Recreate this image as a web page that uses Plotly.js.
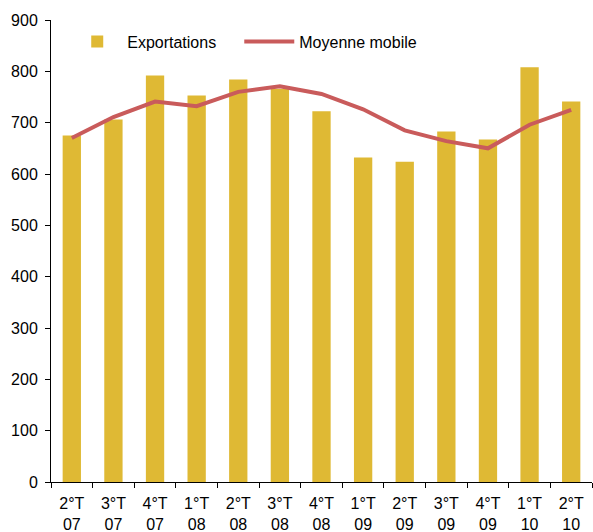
<!DOCTYPE html>
<html>
<head>
<meta charset="utf-8">
<script src="https://cdn.plot.ly/plotly-3.0.1.min.js"></script>
<style>
html,body{margin:0;padding:0;background:#fff;}
#chart{width:593px;height:532px;}
</style>
</head>
<body>
<div id="chart"></div>
<script>
const categories = ["2°T<br>07","3°T<br>07","4°T<br>07","1°T<br>08","2°T<br>08","3°T<br>08","4°T<br>08","1°T<br>09","2°T<br>09","3°T<br>09","4°T<br>09","1°T<br>10","2°T<br>10"];
const exportations = [675, 706, 792, 753, 784, 766, 722, 632, 624, 683, 667, 808, 741];
const moyenneMobile = [670, 711, 741, 732, 760, 771, 756, 726, 685, 664, 650, 696, 725];
const yTicks = [0,100,200,300,400,500,600,700,800,900];

const font = {family: "Liberation Sans, Arial, sans-serif", size: 16, color: "#000"};

const traces = [
  {type: "bar", name: "Exportations", x: categories, y: exportations,
   marker: {color: "#DFB934"}, legend: "legend"},
  {type: "scatter", mode: "lines", name: "Moyenne mobile", x: categories, y: moyenneMobile,
   line: {color: "#C95B5B", width: 4}, legend: "legend2"}
];

const legendBase = {orientation: "h", y: 0.99, xanchor: "left", yanchor: "top",
  font: font, bgcolor: "rgba(0,0,0,0)", itemwidth: 50};

const layout = {
  width: 593, height: 532,
  margin: {l: 51, r: 1, t: 20, b: 50},
  paper_bgcolor: "#fff", plot_bgcolor: "#fff",
  font: font,
  bargap: 0.56,
  showlegend: true,
  legend: Object.assign({}, legendBase, {x: 0.03}),
  legend2: Object.assign({}, legendBase, {x: 0.348}),
  xaxis: {type: "category", tickson: "boundaries", ticks: "outside", ticklen: 5,
          tickcolor: "#000", showline: true, linecolor: "#000", linewidth: 1,
          showgrid: false, tickfont: font, fixedrange: true, ticklabelstandoff: 7},
  yaxis: {range: [0, 900], tickvals: yTicks, ticks: "outside", ticklen: 5,
          tickcolor: "#000", showline: true, linecolor: "#000", linewidth: 1,
          showgrid: false, zeroline: false, tickfont: font, ticklabelstandoff: 4}
};

Plotly.newPlot("chart", traces, layout, {displayModeBar: false, staticPlot: true});
</script>
</body>
</html>
